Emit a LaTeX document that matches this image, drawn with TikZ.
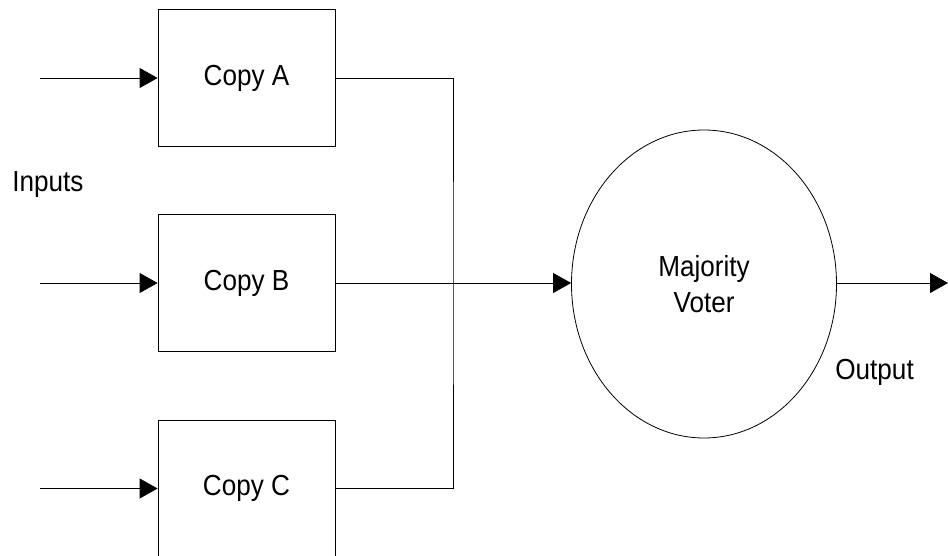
\documentclass[tikz,border=0pt]{standalone}
\usepackage{fontspec}
\setmainfont{Liberation Sans}[FakeStretch=0.9]
\usetikzlibrary{arrows.meta,shapes.geometric}

\begin{document}
\begin{tikzpicture}[x=1pt, y=-1pt, line width=0.8pt,
    copy/.style={draw, minimum width=177pt, minimum height=137pt, inner sep=0pt},
    voter/.style={draw, ellipse, minimum width=265pt, minimum height=308pt, inner sep=0pt, align=center},
    feed/.style={-{Triangle[length=18pt, width=20pt]}},
    font=\fontsize{29}{36}\selectfont]
    \useasboundingbox (0,0) rectangle (948,556);

    % Copias redundantes
    \node[copy] (a) at (246.5,78) {Copy A};
    \node[copy] (b) at (246.5,283) {Copy B};
    \node[copy] (c) at (246.5,488.5) {Copy C};

    % Votador
    \node[voter] (v) at (704,284) {Majority\\Voter};

    % Rótulos
    \node[anchor=west, inner sep=0pt] (in) at (12,185) {Inputs};
    \node[anchor=west, inner sep=0pt] (out) at (835,372) {Output};

    % Extremos livres
    \coordinate (ia) at (40,78);
    \coordinate (ib) at (40,283);
    \coordinate (ic) at (40,488.5);
    \coordinate (j) at (453,283);
    \coordinate (o) at (948,283);

    % Conexões
    \draw[feed] (ia) -- (a);
    \draw[feed] (ib) -- (b);
    \draw[feed] (ic) -- (c);
    \draw (a.east) -| (j) |- (c.east);
    \draw[feed] (b.east) -- (b.east -| v.west);
    \draw[feed] (v.east |- o) -- (o);
\end{tikzpicture}
\end{document}
